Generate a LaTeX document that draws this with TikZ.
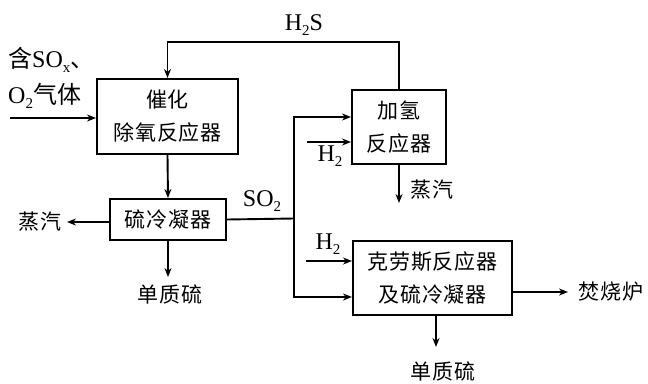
\documentclass[tikz,border=0pt]{standalone}
\usepackage{fontspec}
\setmainfont{Liberation Serif}
\newfontfamily\cjk[LetterSpace=4]{Noto Sans CJK SC}
\usetikzlibrary{arrows.meta}
\newcommand\lsub[1]{\raisebox{-0.45ex}{\fontsize{15}{15}\selectfont #1}}
\tikzset{
  box/.style={draw, line width=2pt, inner sep=0pt, align=center, font=\cjk\fontsize{21}{33}\selectfont},
  arr/.style={line width=1.9pt, -{Stealth[length=9pt,width=7pt]}},
  ln/.style={line width=1.9pt},
  lab/.style={inner sep=0pt, font=\fontsize{24}{26}\selectfont},
  clab/.style={inner sep=0pt, font=\cjk\fontsize{21}{26}\selectfont},
}
\begin{document}
\begin{tikzpicture}[x=1pt,y=-1pt]
\useasboundingbox[fill=white] (0,0) rectangle (648,383);
% boxes
\node[box, minimum width=141pt, minimum height=75pt] (b1) at (167.5,116.5) {催化\\除氧反应器};
\node[box, minimum width=94pt, minimum height=74pt] (b2) at (399,127) {加氢\\反应器};
\node[box, minimum width=116pt, minimum height=41pt] (b3) at (168,219.5) {硫冷凝器};
\node[box, minimum width=159pt, minimum height=74pt] (b4) at (432.5,278) {克劳斯反应器\\及硫冷凝器};
% labels
\node[lab, anchor=west] (lin1) at (8,60) {{\cjk 含}SO\lsub{x}{\cjk 、}};
\node[lab, anchor=west] (lin2) at (8,96) {O\lsub{2}{\cjk 气体}};
\node[lab] (lh2s) at (304,25) {H\lsub{2}S};
\node[lab] (lso2) at (262,201) {SO\lsub{2}};
\node[lab] (lh2a) at (330,156) {H\lsub{2}};
\node[lab] (lh2b) at (328,244) {H\lsub{2}};
\node[clab] (lst1) at (40,222) {蒸汽};
\node[clab] (lst2) at (432,190) {蒸汽};
\node[clab] (ls1) at (170,294) {单质硫};
\node[clab] (ls2) at (443,371) {单质硫};
\node[clab] (lfs) at (611,292) {焚烧炉};
% coordinates
\coordinate (cin) at (10,118);
\coordinate (j) at (294,218.5);
\coordinate (jt) at (294,117);
\coordinate (jb) at (294,297);
\coordinate (h2a) at (307,142);
\coordinate (h2b) at (306,261);
\coordinate (st1) at (67,222);
\coordinate (st2) at (399,203);
\coordinate (s1) at (168,277);
\coordinate (s2) at (436,347);
\coordinate (fs) at (568,292);
% connectors
\draw[arr] (cin) -- (cin -| b1.west);
\draw[arr] (b2.north) -- ++(0,-47) -| (b1.north);
\draw[arr] (b1.south) -- (b3.north);
\draw[arr] (b3.west |- st1) -- (st1);
\draw[arr] (b3.south) -- (s1);
\draw[ln] (b3.east) -- (j);
\draw[arr] (j) -- (jt) -- (jt -| b2.west);
\draw[arr] (j) -- (jb) -- (jb -| b4.west);
\draw[arr] (h2a) -- (h2a -| b2.west);
\draw[arr] (h2b) -- (h2b -| b4.west);
\draw[arr] (b2.south) -- (st2);
\draw[arr] (b4.east |- fs) -- (fs);
\draw[arr] (b4.south -| s2) -- (s2);
\end{tikzpicture}
\end{document}
